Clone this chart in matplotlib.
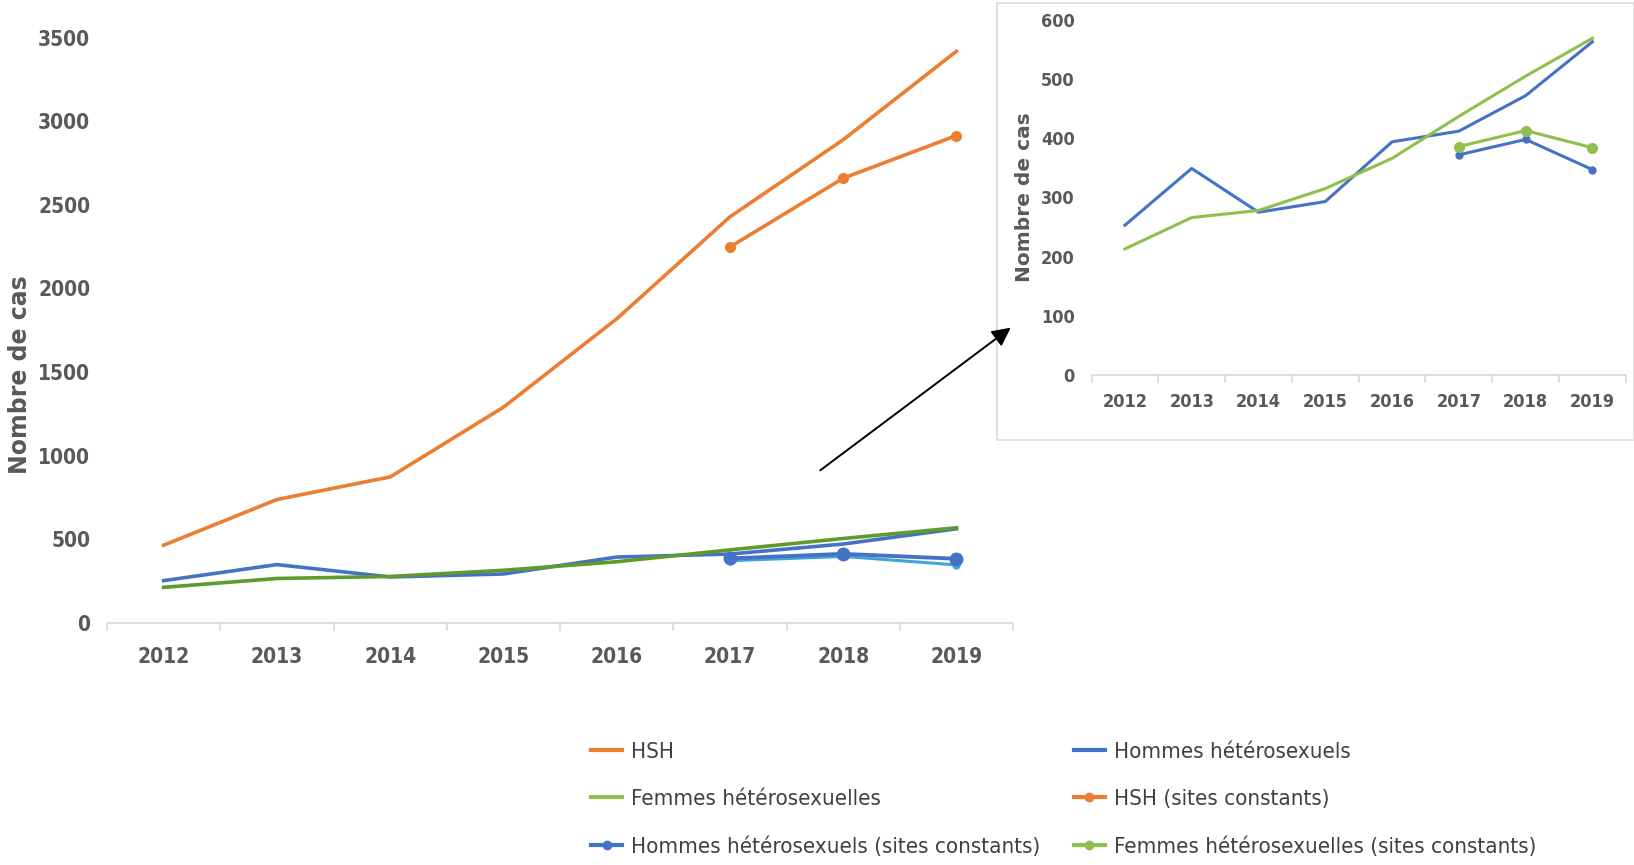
import matplotlib
matplotlib.use("Agg")
import matplotlib.pyplot as plt
from matplotlib.lines import Line2D
from matplotlib.patches import Rectangle, FancyArrowPatch
from matplotlib.font_manager import FontProperties

years = ["2012", "2013", "2014", "2015", "2016", "2017", "2018", "2019"]
hsh = [465, 738, 873, 1290, 1818, 2428, 2889, 3418]
hommes_hetero = [253, 349, 275, 293, 394, 412, 472, 563]
femmes_hetero = [213, 266, 278, 315, 366, 437, 505, 569]
years_const = ["2017", "2018", "2019"]
hsh_const = [2248, 2659, 2914]
hommes_const = [372, 398, 347]
femmes_const = [386, 413, 384]

C_HSH = "#ed7d31"
C_HOM = "#4472c4"
C_FEM = "#8fbf4d"
C_FEM_DARK = "#5f9a2c"
C_CYAN = "#42a3d8"
TXT = "#595959"
AXC = "#d9d9d9"

plt.rcParams["font.family"] = ["DejaVu Sans"]


def cond(size, weight="bold"):
    return FontProperties(family="DejaVu Sans", stretch="condensed",
                          weight=weight, size=size)


fig = plt.figure(figsize=(16.34, 8.65), dpi=100)

x = list(range(len(years)))
xc = [years.index(y) for y in years_const]


def style_axis(ax, ymax, step, tick_size, pad):
    ax.set_xlim(-0.5, len(years) - 0.5)
    ax.set_ylim(0, ymax)
    for s in ["top", "right", "left"]:
        ax.spines[s].set_visible(False)
    ax.spines["bottom"].set_color(AXC)
    ax.spines["bottom"].set_linewidth(1.2)
    ax.set_xticks(x)
    ax.set_xticklabels(years)
    ax.set_xticks([i - 0.5 for i in range(len(years) + 1)], minor=True)
    ax.tick_params(axis="x", which="major", length=0, pad=pad)
    ax.tick_params(axis="x", which="minor", length=6, color=AXC, width=1.2)
    ax.set_yticks(range(0, ymax + 1, step))
    ax.tick_params(axis="y", length=0, pad=12)
    for t in ax.get_xticklabels() + ax.get_yticklabels():
        t.set_fontproperties(cond(tick_size))
        t.set_color(TXT)


# Main chart
ax = fig.add_axes([0.0655, 0.2798, 0.5545, 0.6768])
style_axis(ax, 3500, 500, 15, 17)
ax.plot(x, hsh, color=C_HSH, lw=2.6)
ax.plot(x, hommes_hetero, color=C_HOM, lw=2.6)
ax.plot(x, femmes_hetero, color=C_FEM_DARK, lw=2.6)
ax.plot(xc, hsh_const, color=C_HSH, lw=2.6, marker="o", ms=7)
ax.plot(xc, hommes_const, color=C_CYAN, lw=2.2, marker="o", ms=5)
ax.plot(xc, femmes_const, color=C_HOM, lw=2.8, marker="o", ms=9)
ax.set_ylabel("Nombre de cas", fontsize=17, fontweight="bold", color=TXT)
ax.yaxis.set_label_coords(-0.083, 0.424)

# Zoomed inset on the heterosexual series
fig.patches.append(Rectangle((997 / 1634, 1 - 440 / 865), 637 / 1634, 437 / 865,
                             transform=fig.transFigure, fill=False,
                             edgecolor=AXC, lw=1.2))
ax2 = fig.add_axes([0.668, 0.5665, 0.327, 0.4105])
style_axis(ax2, 600, 100, 13, 13)
ax2.plot(x, hommes_hetero, color=C_HOM, lw=2.2)
ax2.plot(x, femmes_hetero, color=C_FEM, lw=2.2)
ax2.plot(xc, hommes_const, color=C_HOM, lw=2.2, marker="o", ms=5)
ax2.plot(xc, femmes_const, color=C_FEM, lw=2.2, marker="o", ms=7)
ax2.set_ylabel("Nombre de cas", fontsize=14.5, fontweight="bold", color=TXT)
ax2.yaxis.set_label_coords(-0.108, 0.5)

# Arrow pointing from the main chart to the inset
fig.patches.append(FancyArrowPatch((818 / 1634, 1 - 472 / 865), (1013 / 1634, 1 - 326 / 865),
                                   transform=fig.transFigure, arrowstyle="-|>",
                                   mutation_scale=28, color="black", lw=1.4))

# Legend
handles = [
    Line2D([], [], color=C_HSH, lw=3),
    Line2D([], [], color=C_FEM, lw=3),
    Line2D([], [], color=C_HOM, lw=3, marker="o", ms=6),
    Line2D([], [], color=C_HOM, lw=3),
    Line2D([], [], color=C_HSH, lw=3, marker="o", ms=6),
    Line2D([], [], color=C_FEM, lw=3, marker="o", ms=6),
]
labels = ["HSH", "Femmes hétérosexuelles", "Hommes hétérosexuels (sites constants)",
          "Hommes hétérosexuels", "HSH (sites constants)",
          "Femmes hétérosexuelles (sites constants)"]
leg = fig.legend(handles, labels, ncol=2, loc="upper left",
                 bbox_to_anchor=(571 / 1634, 1 - 722 / 865),
                 frameon=False, handlelength=1.4, handletextpad=0.4,
                 columnspacing=1.5, labelspacing=1.22,
                 prop=cond(16, "normal"))
for t in leg.get_texts():
    t.set_color("#404040")

fig.savefig("out.png", dpi=100, facecolor="white")
